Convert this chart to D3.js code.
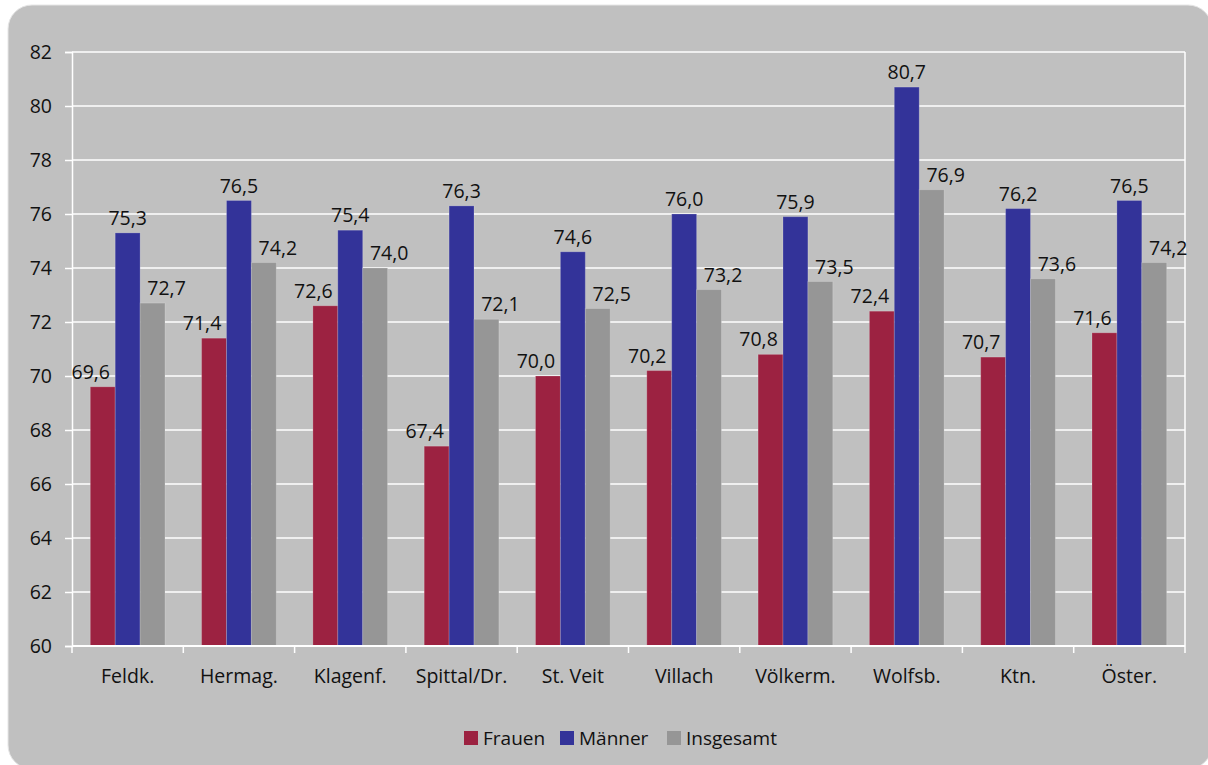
<!DOCTYPE html>
<html>
<head>
<meta charset="utf-8">
<script src="https://cdn.jsdelivr.net/npm/d3@7"></script>
<style>
  html, body { margin: 0; padding: 0; background: #ffffff; }
  svg { display: block; }
  text { font-family: "Open Sans", sans-serif; fill: #111; }
</style>
</head>
<body>
<script>
// data
const categories = ['Feldk.', 'Hermag.', 'Klagenf.', 'Spittal/Dr.', 'St. Veit', 'Villach', 'Völkerm.', 'Wolfsb.', 'Ktn.', 'Öster.'];
const seriesNames = ['Frauen', 'Männer', 'Insgesamt'];
const frauen = [69.6, 71.4, 72.6, 67.4, 70.0, 70.2, 70.8, 72.4, 70.7, 71.6];
const maenner = [75.3, 76.5, 75.4, 76.3, 74.6, 76.0, 75.9, 80.7, 76.2, 76.5];
const insgesamt = [72.7, 74.2, 74.0, 72.1, 72.5, 73.2, 73.5, 76.9, 73.6, 74.2];
const yTicks = [60, 62, 64, 66, 68, 70, 72, 74, 76, 78, 80, 82];

const W = 1208, H = 765;
const colors = ['#9c2241', '#333399', '#969696'];
const labelShift = [-12, 0, 14];

const svg = d3.select('body').append('svg')
  .attr('width', W)
  .attr('height', H);

// panel
svg.append('rect')
  .attr('x', 8).attr('y', 5)
  .attr('width', 1204).attr('height', 764)
  .attr('rx', 24)
  .attr('fill', '#c0c0c0')
  .attr('stroke', '#e6e6e6')
  .attr('stroke-width', 1);

const plotL = 72, plotR = 1185, plotT = 52, plotB = 646;

const x0 = d3.scaleBand().domain(categories).range([plotL, plotR]);
const x1 = d3.scaleBand().domain(seriesNames).range([0, x0.bandwidth()]).paddingOuter(0.735);
const y = d3.scaleLinear().domain([60, 82]).range([plotB, plotT]);

const series = [frauen, maenner, insgesamt];
const rows = categories.map((c, i) => ({
  cat: c,
  vals: seriesNames.map((s, k) => ({ s, k, v: series[k][i] }))
}));

// gridlines
svg.append('g').selectAll('line')
  .data(yTicks.filter(t => t > 60))
  .join('line')
  .attr('x1', plotL).attr('x2', plotR)
  .attr('y1', d => y(d)).attr('y2', d => y(d))
  .attr('stroke', '#fff')
  .attr('stroke-width', 1.5);

// right border of plot area
svg.append('line')
  .attr('x1', plotR).attr('x2', plotR)
  .attr('y1', plotT).attr('y2', plotB + 7)
  .attr('stroke', '#fff').attr('stroke-width', 1.5);

// y axis
const yAxis = svg.append('g')
  .attr('transform', `translate(${plotL},0)`)
  .call(d3.axisLeft(y).tickValues(yTicks).tickSize(7).tickPadding(13).tickFormat(d3.format('d')));
yAxis.select('.domain').attr('stroke', '#fff').attr('stroke-width', 1.5);
yAxis.selectAll('.tick line').attr('stroke', '#fff').attr('stroke-width', 1.5);
yAxis.selectAll('.tick text')
  .attr('font-size', 19.5)
  .attr('font-family', '"Open Sans", sans-serif')
  .attr('fill', '#111');

// bars
const groups = svg.append('g').selectAll('g')
  .data(rows)
  .join('g')
  .attr('transform', d => `translate(${x0(d.cat)},0)`);

groups.selectAll('rect')
  .data(d => d.vals)
  .join('rect')
  .attr('x', d => x1(d.s))
  .attr('width', x1.bandwidth())
  .attr('y', d => y(d.v))
  .attr('height', d => y(60) - y(d.v))
  .attr('fill', d => colors[d.k])
  .attr('stroke', 'rgba(255,255,255,0.18)')
  .attr('stroke-width', 1);

groups.selectAll('text')
  .data(d => d.vals)
  .join('text')
  .attr('x', d => x1(d.s) + x1.bandwidth() / 2 + labelShift[d.k])
  .attr('y', d => y(d.v) - 8)
  .attr('text-anchor', 'middle')
  .attr('font-size', 19.5)
  .text(d => d3.format('.1f')(d.v).replace('.', ','));

// x axis
const xAxisG = svg.append('g');
xAxisG.append('line')
  .attr('x1', plotL).attr('x2', plotR)
  .attr('y1', plotB).attr('y2', plotB)
  .attr('stroke', '#fff').attr('stroke-width', 2);
xAxisG.selectAll('line.tk')
  .data(categories)
  .join('line')
  .attr('class', 'tk')
  .attr('x1', d => x0(d)).attr('x2', d => x0(d))
  .attr('y1', plotB).attr('y2', plotB + 7)
  .attr('stroke', '#fff').attr('stroke-width', 1.5);
xAxisG.selectAll('text')
  .data(categories)
  .join('text')
  .attr('x', d => x0(d) + x0.bandwidth() / 2)
  .attr('y', 683)
  .attr('text-anchor', 'middle')
  .attr('font-size', 19.5)
  .text(d => d);

// legend
const legendX = [464, 560, 667];
const legend = svg.append('g').selectAll('g')
  .data(seriesNames)
  .join('g')
  .attr('transform', (d, i) => `translate(${legendX[i]},731)`);
legend.append('rect')
  .attr('width', 14).attr('height', 14)
  .attr('fill', (d, i) => colors[i]);
legend.append('text')
  .attr('x', 19).attr('y', 13.5)
  .attr('font-size', 19)
  .text(d => d);
</script>
</body>
</html>
